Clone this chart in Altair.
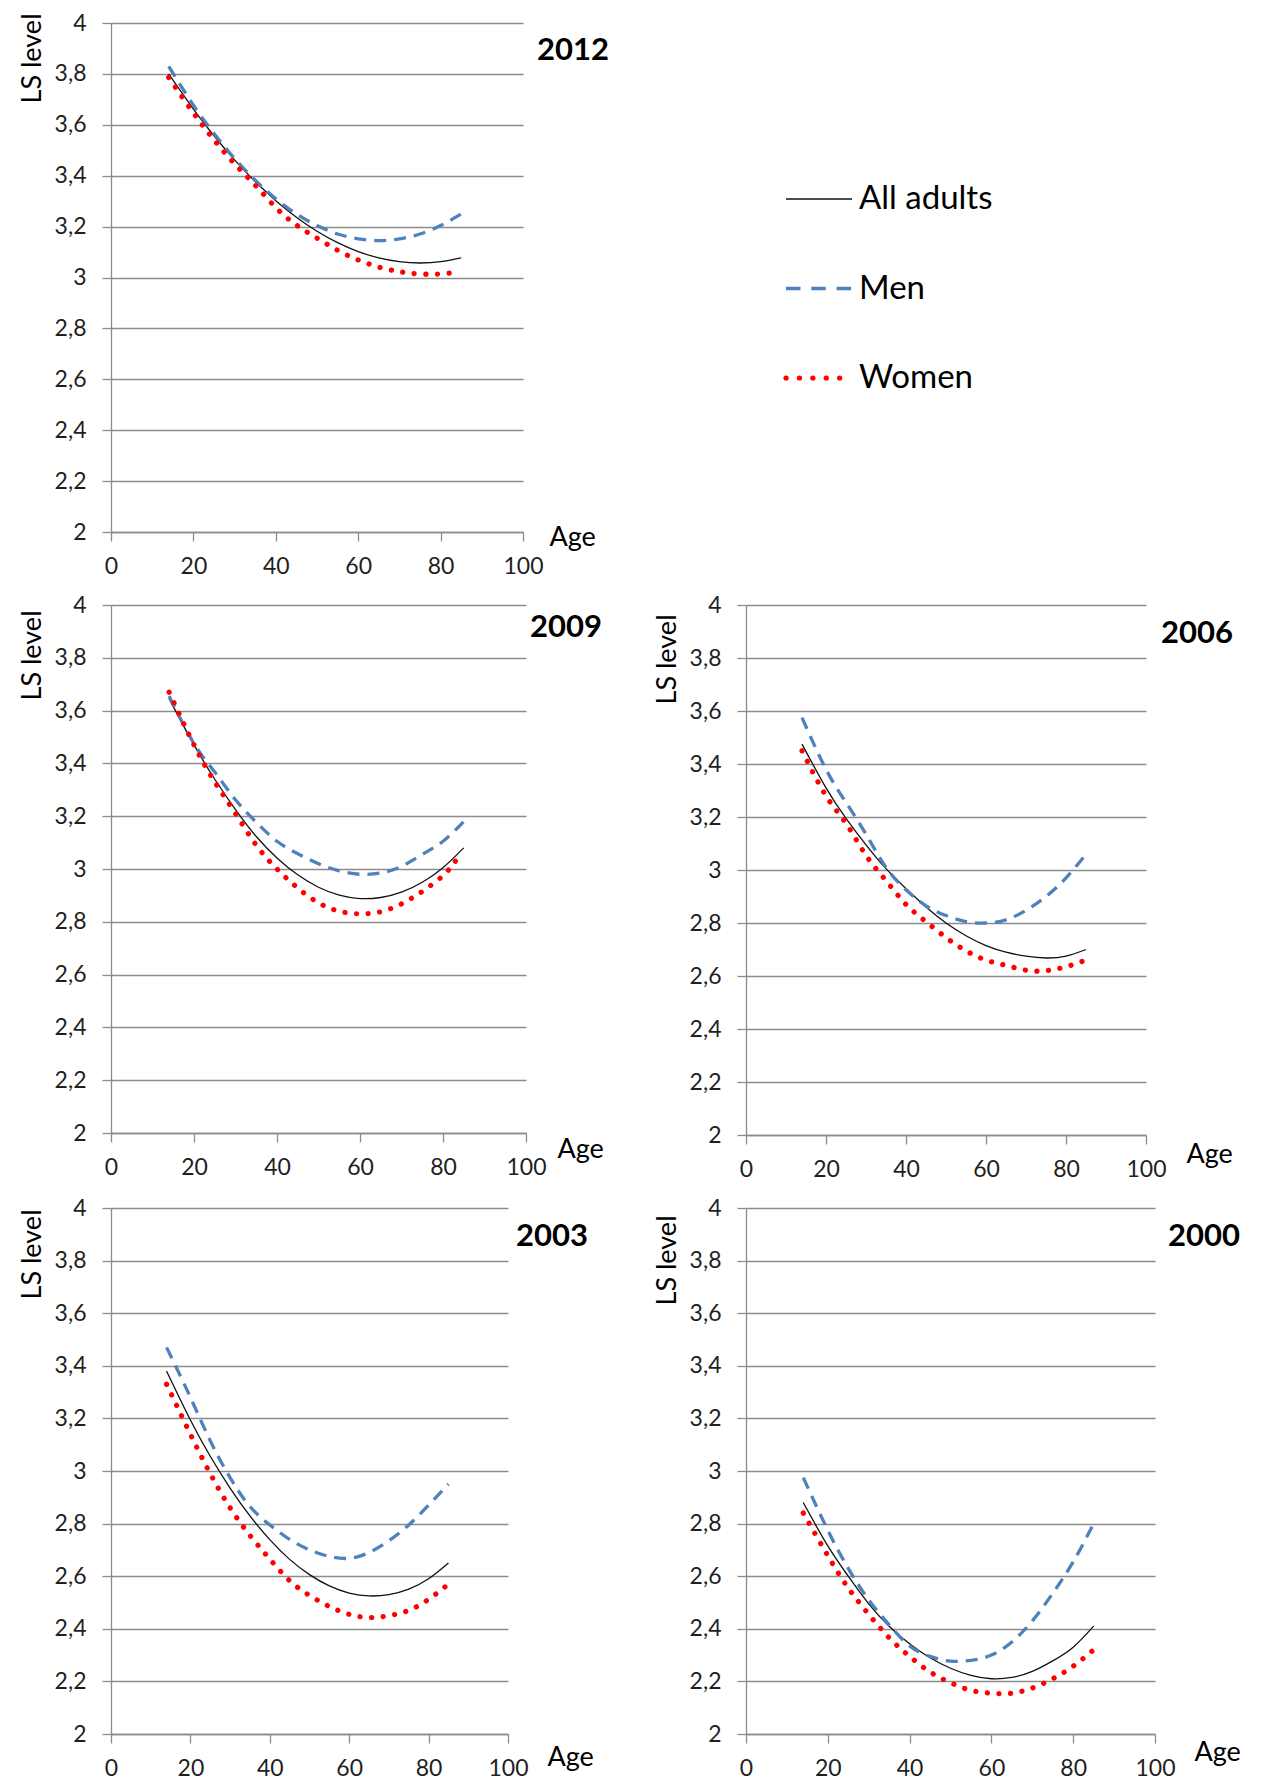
import altair as alt
import pandas as pd

# ---------------- data ----------------
AGES = [14, 20, 25, 30, 35, 40, 45, 50, 55, 60, 65, 70, 75, 80, 85]
AGES_WOMEN_2012 = [14, 20, 25, 30, 35, 40, 45, 50, 55, 60, 65, 70, 75, 80, 82.5]
AGES_WOMEN_2009 = [14, 20, 25, 30, 35, 40, 45, 50, 55, 60, 65, 70, 75, 80, 83]

ALL_2012 = [3.80, 3.662, 3.557, 3.462, 3.377, 3.302, 3.237, 3.182, 3.137, 3.102, 3.077, 3.062, 3.057, 3.062, 3.077]
MEN_2012 = [3.83, 3.677, 3.566, 3.467, 3.382, 3.309, 3.25, 3.204, 3.171, 3.152, 3.145, 3.152, 3.171, 3.204, 3.25]
WOMEN_2012 = [3.786, 3.647, 3.541, 3.447, 3.363, 3.275, 3.206, 3.155, 3.107, 3.069, 3.041, 3.023, 3.014, 3.014, 3.018]

ALL_2009 = [3.645, 3.47, 3.34, 3.225, 3.123, 3.042, 2.978, 2.931, 2.901, 2.888, 2.892, 2.912, 2.95, 3.005, 3.08]
MEN_2009 = [3.655, 3.475, 3.367, 3.262, 3.177, 3.105, 3.058, 3.02, 2.993, 2.98, 2.985, 3.01, 3.055, 3.105, 3.18]
WOMEN_2009 = [3.67, 3.47, 3.33, 3.21, 3.09, 3.0, 2.928, 2.872, 2.84, 2.83, 2.838, 2.868, 2.915, 2.975, 3.03]

ALL_2006 = [3.475, 3.31, 3.195, 3.095, 3.005, 2.93, 2.86, 2.80, 2.752, 2.715, 2.69, 2.675, 2.668, 2.675, 2.70]
MEN_2006 = [3.575, 3.38, 3.255, 3.135, 3.01, 2.925, 2.865, 2.828, 2.805, 2.80, 2.812, 2.848, 2.90, 2.97, 3.06]
WOMEN_2006 = [3.45, 3.28, 3.176, 3.055, 2.96, 2.87, 2.805, 2.745, 2.695, 2.66, 2.64, 2.622, 2.62, 2.635, 2.66]

ALL_2003 = [3.38, 3.194, 3.056, 2.935, 2.829, 2.739, 2.664, 2.606, 2.563, 2.536, 2.525, 2.53, 2.551, 2.59, 2.65]
MEN_2003 = [3.47, 3.28, 3.115, 2.975, 2.865, 2.795, 2.74, 2.70, 2.675, 2.668, 2.69, 2.735, 2.795, 2.87, 2.95]
WOMEN_2003 = [3.33, 3.14, 2.99, 2.86, 2.755, 2.665, 2.583, 2.527, 2.485, 2.455, 2.443, 2.45, 2.47, 2.512, 2.57]

ALL_2000 = [2.88, 2.715, 2.60, 2.495, 2.41, 2.343, 2.29, 2.25, 2.223, 2.21, 2.215, 2.238, 2.278, 2.33, 2.41]
MEN_2000 = [2.975, 2.775, 2.63, 2.51, 2.415, 2.335, 2.295, 2.277, 2.28, 2.30, 2.35, 2.43, 2.535, 2.655, 2.80]
WOMEN_2000 = [2.84, 2.678, 2.555, 2.455, 2.366, 2.295, 2.236, 2.195, 2.166, 2.155, 2.155, 2.175, 2.21, 2.258, 2.32]

SERIES = ["All adults", "Men", "Women"]
YEARS = ["2012", "2009", "2006", "2003", "2000"]
X_TICKS = [0, 20, 40, 60, 80, 100]
Y_TICKS = [2, 2.2, 2.4, 2.6, 2.8, 3, 3.2, 3.4, 3.6, 3.8, 4]

CURVES = {
    ("2012", "All adults"): (AGES, ALL_2012),
    ("2012", "Men"): (AGES, MEN_2012),
    ("2012", "Women"): (AGES_WOMEN_2012, WOMEN_2012),
    ("2009", "All adults"): (AGES, ALL_2009),
    ("2009", "Men"): (AGES, MEN_2009),
    ("2009", "Women"): (AGES_WOMEN_2009, WOMEN_2009),
    ("2006", "All adults"): (AGES, ALL_2006),
    ("2006", "Men"): (AGES, MEN_2006),
    ("2006", "Women"): (AGES, WOMEN_2006),
    ("2003", "All adults"): (AGES, ALL_2003),
    ("2003", "Men"): (AGES, MEN_2003),
    ("2003", "Women"): (AGES, WOMEN_2003),
    ("2000", "All adults"): (AGES, ALL_2000),
    ("2000", "Men"): (AGES, MEN_2000),
    ("2000", "Women"): (AGES, WOMEN_2000),
}

records = []
for (year, series), (ages, values) in CURVES.items():
    for a, v in zip(ages, values):
        records.append({"year": year, "series": series, "age": a, "ls": v})
df = pd.DataFrame(records)

# ---------------- styling / layout ----------------
FONT = "Lato"
GRID = "#8c8c8c"
TEXT = "#1f1f1f"

LINE_STYLE = {
    "All adults": dict(color="#111111", strokeWidth=1.3),
    "Men": dict(color="#4F81BD", strokeWidth=3.3, strokeDash=[12, 8]),
    "Women": dict(color="#FF0000", strokeWidth=5.2, strokeDash=[0.1, 11.5], strokeCap="round"),
}
LEGEND_STYLE = {
    "All adults": dict(color="#111111", strokeWidth=1.3),
    "Men": dict(color="#4F81BD", strokeWidth=3.3, strokeDash=[14.5, 10.8]),
    "Women": dict(color="#FF0000", strokeWidth=5.2, strokeDash=[0.1, 13.3], strokeCap="round"),
}

PANEL = {
    "2012": dict(w=412, h=509, tag_dx=14, tag_dy=28, age_dx=26, age_dy=5, ls_dy=-10),
    "2009": dict(w=415, h=528, tag_dx=4, tag_dy=23, age_dx=31, age_dy=16, ls_dy=5),
    "2006": dict(w=400, h=530, tag_dx=15, tag_dy=29, age_dx=40, age_dy=19, ls_dy=9),
    "2003": dict(w=397, h=526, tag_dx=8, tag_dy=29, age_dx=39, age_dy=23, ls_dy=1),
    "2000": dict(w=409, h=526, tag_dx=13, tag_dy=29, age_dx=39, age_dy=18, ls_dy=7),
}

LABEL_EXPR = "replace(format(datum.value, '.1~f'), '.', ',')"


def make_panel(year):
    p = PANEL[year]
    x_enc = alt.X(
        "age:Q",
        scale=alt.Scale(domain=[0, 100], nice=False, zero=False),
        axis=alt.Axis(
            values=X_TICKS, grid=False, title="Age",
            titleX=p["w"] + p["age_dx"], titleY=p["age_dy"],
            titleAlign="left", titleBaseline="middle",
            labelPadding=14, tickSize=9, labelFlush=False, labelOverlap=False,
        ),
    )
    y_enc = alt.Y(
        "ls:Q",
        scale=alt.Scale(domain=[2, 4], nice=False, zero=False),
        axis=alt.Axis(
            values=Y_TICKS, grid=True, title="LS level",
            titleAlign="right", titleY=p["ls_dy"], titlePadding=8,
            labelExpr=LABEL_EXPR, labelPadding=16, tickSize=9,
            labelFlush=False, labelOverlap=False,
        ),
    )
    layers = []
    for s in SERIES:
        sub = df[(df.year == year) & (df.series == s)]
        layers.append(
            alt.Chart(sub).mark_line(interpolate="natural", **LINE_STYLE[s]).encode(x=x_enc, y=y_enc)
        )
    tag = alt.Chart(pd.DataFrame({"label": [year]})).mark_text(
        align="left", baseline="middle", font=FONT, fontSize=31, fontWeight="bold",
        color="black", dx=p["tag_dx"], dy=p["tag_dy"],
    ).encode(x=alt.datum(100), y=alt.datum(4), text="label:N")
    return alt.layer(*layers, tag).properties(width=p["w"], height=p["h"])


def make_legend():
    ys = alt.Y("series:N", scale=alt.Scale(type="point", domain=SERIES, range=[176, 355], padding=0), axis=None)
    layers = []
    for s in SERIES:
        layers.append(
            alt.Chart(pd.DataFrame({"series": [s]})).mark_rule(**LEGEND_STYLE[s]).encode(
                x=alt.value(40), x2=alt.value(106), y=ys
            )
        )
    layers.append(
        alt.Chart(pd.DataFrame({"series": SERIES})).mark_text(
            align="left", baseline="middle", font=FONT, fontSize=33, color="black"
        ).encode(x=alt.value(113), y=ys, text="series:N")
    )
    return alt.layer(*layers).properties(width=400, height=509)


chart = alt.concat(
    make_panel("2012"), make_legend(),
    make_panel("2009"), make_panel("2006"),
    make_panel("2003"), make_panel("2000"),
    columns=2, spacing={"row": 73, "column": 220}, bounds="flush", align="each",
).properties(
    padding={"left": 10, "top": 4, "right": 5, "bottom": 0}
).configure_view(
    stroke=None
).configure_axis(
    labelFont=FONT, titleFont=FONT, labelFontSize=23, titleFontSize=27,
    titleFontWeight="normal", labelColor=TEXT, titleColor="black",
    gridColor=GRID, domainColor=GRID, tickColor=GRID,
    gridWidth=1.3, domainWidth=1.3, tickWidth=1.3,
)

chart.save("out.html", embed_options={"renderer": "svg", "actions": False})
